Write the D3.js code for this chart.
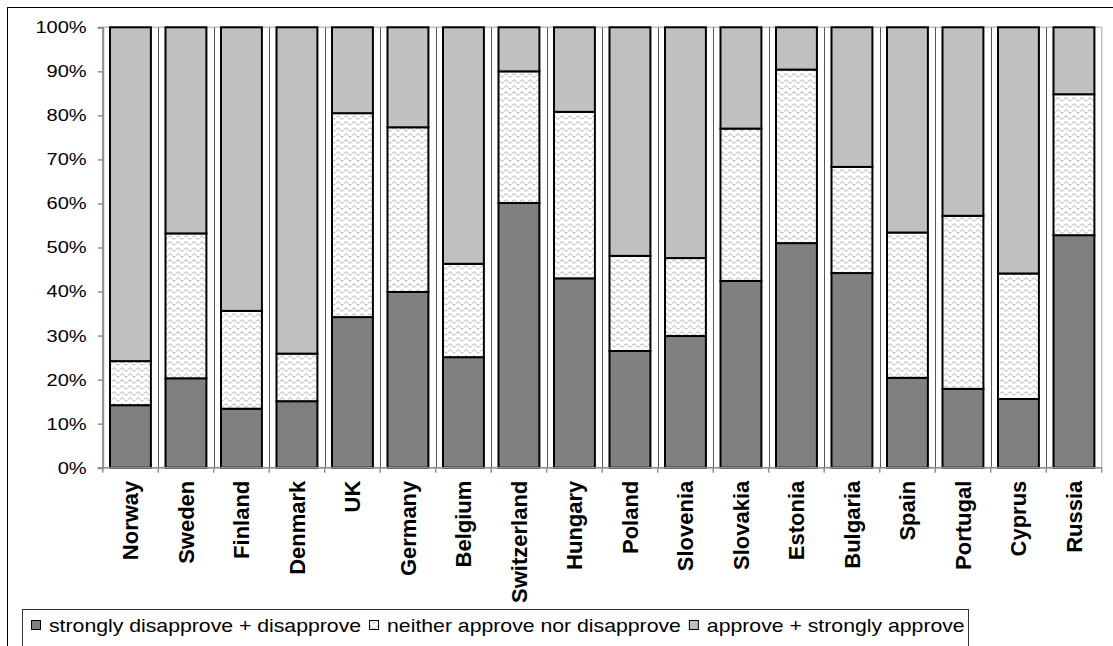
<!DOCTYPE html>
<html>
<head>
<meta charset="utf-8">
<script src="https://cdn.jsdelivr.net/npm/d3@7/dist/d3.min.js"></script>
<style>
  html, body { margin: 0; padding: 0; background: #fff; }
  svg { display: block; font-family: Arial, "Liberation Sans", sans-serif; }
</style>
</head>
<body>
<svg id="chart" width="1113" height="646"></svg>
<script>
// Countries along the x axis
const countries = ["Norway", "Sweden", "Finland", "Denmark", "UK", "Germany", "Belgium",
  "Switzerland", "Hungary", "Poland", "Slovenia", "Slovakia", "Estonia", "Bulgaria",
  "Spain", "Portugal", "Cyprus", "Russia"];

// Share of respondents (%) per answer group
const disapprove = [14.2, 20.3, 13.4, 15.1, 34.2, 39.9, 25.1, 60.1, 43.0, 26.5, 29.9, 42.4, 51.0, 44.2, 20.4, 17.9, 15.6, 52.8];
const neither    = [10.0, 32.9, 22.2, 10.8, 46.3, 37.4, 21.2, 29.9, 37.8, 21.6, 17.7, 34.6, 39.4, 24.1, 33.0, 39.3, 28.5, 32.0];
const approve    = [75.8, 46.8, 64.4, 74.1, 19.5, 22.7, 53.7, 10.0, 19.2, 51.9, 52.4, 23.0,  9.6, 31.7, 46.6, 42.8, 55.9, 15.2];

const seriesNames = ["strongly disapprove + disapprove", "neither approve nor disapprove", "approve + strongly approve"];
const yTicks = [0, 10, 20, 30, 40, 50, 60, 70, 80, 90, 100];

// Horizontal stretch applied to the regular text
const SX = 1.18;

const svg = d3.select("#chart");

// Wavy hatch used for the middle answer group
const defs = svg.append("defs");
const pat = defs.append("pattern")
  .attr("id", "wave").attr("patternUnits", "userSpaceOnUse")
  .attr("width", 8).attr("height", 6);
pat.append("rect").attr("width", 8).attr("height", 6).attr("fill", "#fff");
pat.append("path")
  .attr("d", "M0,3.5 Q2,0.5 4,3.5 T8,3.5")
  .attr("fill", "none").attr("stroke", "#8f8f8f").attr("stroke-width", 1)
  .attr("stroke-dasharray", "1.8,0.7");

const fills = ["#808080", "url(#wave)", "#c0c0c0"];

// Outer chart frame
svg.append("rect")
  .attr("x", 7.5).attr("y", 7.5).attr("width", 1120).attr("height", 660)
  .attr("fill", "#fff").attr("stroke", "#000").attr("stroke-width", 1);

const plot = { left: 102.7, right: 1101.7, top: 27.3, bottom: 467.7 };

const x = d3.scaleBand().domain(countries).range([plot.left, plot.right]).paddingInner(0.263).paddingOuter(0.1315);
const y = d3.scaleLinear().domain([0, 100]).range([plot.bottom, plot.top]);

const g = svg.append("g");

// Plot area border (light grey)
g.append("rect")
  .attr("x", plot.left).attr("y", plot.top)
  .attr("width", plot.right - plot.left).attr("height", plot.bottom - plot.top)
  .attr("fill", "none").attr("stroke", "#c0c0c0").attr("stroke-width", 1.5);

// Category separators
const step = (plot.right - plot.left) / countries.length;
g.selectAll("line.sep")
  .data(d3.range(1, countries.length))
  .join("line")
  .attr("class", "sep")
  .attr("x1", i => Math.round(plot.left + i * step) + 0.5)
  .attr("x2", i => Math.round(plot.left + i * step) + 0.5)
  .attr("y1", plot.top).attr("y2", plot.bottom)
  .attr("stroke", "#555").attr("stroke-width", 1);

// Stack the three answer groups
const rows = countries.map((c, i) => ({ country: c, a: disapprove[i], b: neither[i], c: approve[i] }));
const stack = d3.stack().keys(["a", "b", "c"]);
const layers = stack(rows);

layers.forEach((layer, li) => {
  g.append("g").selectAll("rect")
    .data(layer)
    .join("rect")
    .attr("x", d => x(d.data.country))
    .attr("width", x.bandwidth())
    .attr("y", d => y(d[1]))
    .attr("height", d => y(d[0]) - y(d[1]))
    .attr("fill", fills[li])
    .attr("stroke", "#000")
    .attr("stroke-width", 2);
});

// Y axis
const yAxis = g.append("g")
  .attr("transform", `translate(${plot.left},0)`)
  .call(d3.axisLeft(y).tickValues(yTicks).tickFormat(d => d + "%").tickSize(5));
yAxis.select(".domain").attr("stroke", "#909090").attr("stroke-width", 2);
yAxis.selectAll(".tick line").attr("stroke", "#909090").attr("stroke-width", 1.5);
yAxis.selectAll(".tick text")
  .attr("x", 0)
  .attr("transform", `translate(-16,0) scale(${SX},1)`)
  .attr("fill", "#000").style("font-size", "17px").style("font-family", "Arial, 'Liberation Sans', sans-serif");

// X axis baseline and ticks at the category boundaries
g.append("line")
  .attr("x1", plot.left - 5).attr("x2", plot.right)
  .attr("y1", plot.bottom).attr("y2", plot.bottom)
  .attr("stroke", "#909090").attr("stroke-width", 1.5);
g.selectAll("line.xtick")
  .data(d3.range(0, countries.length + 1))
  .join("line")
  .attr("class", "xtick")
  .attr("x1", i => plot.left + i * step)
  .attr("x2", i => plot.left + i * step)
  .attr("y1", plot.bottom).attr("y2", plot.bottom + 5)
  .attr("stroke", "#909090").attr("stroke-width", 1.5);

// Rotated country labels
g.selectAll("text.xlab")
  .data(countries)
  .join("text")
  .attr("class", "xlab")
  .attr("transform", d => `translate(${x(d) + x.bandwidth() / 2},${plot.bottom + 13}) rotate(-90)`)
  .attr("text-anchor", "end")
  .attr("dy", "0.36em")
  .style("font-size", "22px")
  .style("font-weight", "bold")
  .text(d => d);

// Legend
const legend = svg.append("g");
legend.append("rect")
  .attr("x", 22.5).attr("y", 609.5).attr("width", 946).attr("height", 60)
  .attr("fill", "#fff").attr("stroke", "#333").attr("stroke-width", 1);

let lx = 31;
seriesNames.forEach((name, i) => {
  legend.append("rect")
    .attr("x", lx + 0.5).attr("y", 620.5).attr("width", 9).attr("height", 9)
    .attr("fill", fills[i]).attr("stroke", "#000").attr("stroke-width", 1);
  const t = legend.append("text")
    .attr("transform", `translate(${lx + 18},632) scale(${SX},1)`)
    .style("font-size", "18px")
    .text(name);
  lx = lx + 18 + t.node().getComputedTextLength() * SX + 8;
});
</script>
</body>
</html>
